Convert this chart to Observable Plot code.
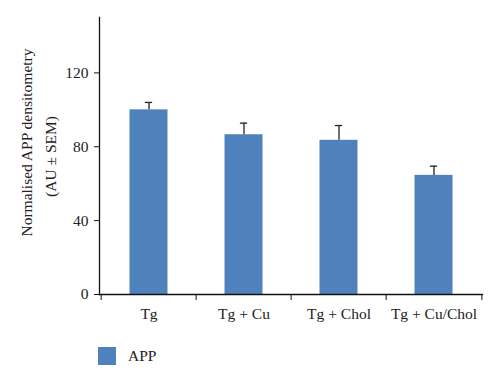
<!DOCTYPE html>
<html>
<head>
<meta charset="utf-8">
<script src="https://cdn.jsdelivr.net/npm/d3@7"></script>
<script src="https://cdn.jsdelivr.net/npm/@observablehq/plot@0.6"></script>
<style>
  html, body { margin: 0; padding: 0; background: #fff; }
  #chart { width: 500px; font-family: "Liberation Serif", "DejaVu Serif", serif; }
  .legend { position: relative; height: 43px; font-family: "Liberation Serif", serif; font-size: 15.5px; color: #222; }
  .legend .sw { position: absolute; left: 98px; top: 7px; width: 18px; height: 18px; background: #4f81bd; }
  .legend .lb { position: absolute; left: 128px; top: 7px; line-height: 18px; }
</style>
</head>
<body>
<div id="chart"></div>
<script>
const categories = ["Tg", "Tg + Cu", "Tg + Chol", "Tg + Cu/Chol"];
const values = [100, 86.5, 83.5, 64.5];
const errors = [4, 6.3, 8, 5];
const yTicks = [0, 40, 80, 120];
const seriesName = "APP";
const yLabel1 = "Normalised APP densitometry";
const yLabel2 = "(AU ± SEM)";

const data = categories.map((c, i) => ({cat: c, value: values[i], err: errors[i], top: values[i] + errors[i]}));

const W = 500, H = 340, mL = 99, mR = 18;
const bw = (W - mL - mR) / categories.length;
const FS = 15.5;

const plot = Plot.plot({
  width: W,
  height: H,
  marginLeft: mL,
  marginRight: mR,
  marginTop: 17,
  marginBottom: 46,
  style: {fontFamily: "Liberation Serif, DejaVu Serif, serif", fontSize: FS + "px", color: "#222", background: "#fff", overflow: "visible"},
  x: {domain: categories, padding: 0, label: null},
  y: {domain: [0, 150], label: null},
  marks: [
    Plot.barY(data, {x: "cat", y: "value", fill: "#4f81bd", insetLeft: 28.5, insetRight: 28.5}),
    Plot.ruleX(data, {x: "cat", y1: "value", y2: "top", stroke: "#222", strokeWidth: 1.3}),
    Plot.tickY(data, {x: "cat", y: "top", stroke: "#222", strokeWidth: 1.3, insetLeft: (bw - 8) / 2, insetRight: (bw - 8) / 2}),
    Plot.frame({anchor: "left", stroke: "#111", strokeWidth: 1.3}),
    Plot.frame({anchor: "bottom", stroke: "#111", strokeWidth: 1.3}),
    Plot.axisY({ticks: yTicks, tickSize: 5, tickPadding: 6, label: null, stroke: "#111", fontSize: FS}),
    Plot.axisX({tickSize: 0, tickPadding: 13, label: null, fontSize: FS}),
    Plot.axisX({tickSize: 6, text: null, label: null, dx: -bw / 2, stroke: "#111"}),
    Plot.axisX([categories[categories.length - 1]], {tickSize: 6, text: null, label: null, dx: bw / 2, stroke: "#111"}),
    Plot.text([yLabel1], {text: d => d, frameAnchor: "left", textAnchor: "middle", rotate: -90, dx: -72, dy: -13.5, fontSize: FS, fill: "#222"}),
    Plot.text([yLabel2], {text: d => d, frameAnchor: "left", textAnchor: "middle", rotate: -90, dx: -48, dy: 0.5, fontSize: FS, fill: "#222"})
  ]
});
document.getElementById("chart").appendChild(plot);
const leg = document.createElement("div");
leg.className = "legend";
leg.innerHTML = `<span class="sw"></span><span class="lb">${seriesName}</span>`;
document.getElementById("chart").appendChild(leg);
</script>
</body>
</html>
